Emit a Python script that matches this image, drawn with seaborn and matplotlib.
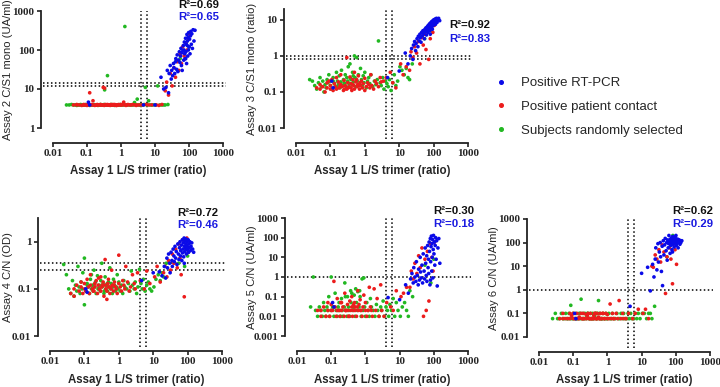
import matplotlib
matplotlib.use("Agg")
import matplotlib.pyplot as plt
import pandas as pd
import seaborn as sns
from matplotlib.lines import Line2D
from matplotlib.ticker import FixedFormatter, FixedLocator, NullLocator

# ---------------------------------------------------------------- data
# Assay 1 (L/S trimer ratio) per subject, one list per group
BLUE_X = [0.11, 0.12, 4.6, 10, 15, 18, 21, 23, 25, 26, 28, 30, 31, 33, 35,
          36, 38, 40, 41, 43, 45, 47, 49, 52, 54, 56, 58, 60, 62, 63,
          66, 68, 70, 71, 73, 75, 77, 79, 81, 83, 85, 87, 89, 90, 92,
          94, 96, 98, 101, 104, 107, 110, 113, 117, 121, 126, 132, 140, 150, 80]
BLUE_A2 = [4.6, 3.9, 3.9, 3.9, 20, 10, 11, 30, 8, 25, 40, 18, 30, 22, 45,
           35, 25, 50, 60, 32, 75, 28, 55, 90, 48, 70, 110, 40, 85, 30,
           95, 130, 55, 100, 160, 80, 60, 200, 90, 140, 45, 250, 130, 170, 70,
           210, 100, 280, 120, 190, 80, 230, 300, 140, 260, 110, 330, 170, 320, 60]
BLUE_A3 = [0.2, 0.13, 0.25, 0.38, 1.2, 0.6, 1.0, 1.6, 0.8, 2.0, 2.5, 1.4, 2.2, 3.0, 1.8,
           3.5, 2.6, 4.0, 3.2, 2.4, 4.5, 3.6, 5.0, 4.2, 3.0, 5.5, 4.8, 6.0, 3.8, 5.2,
           6.5, 4.5, 7.0, 5.8, 6.2, 7.5, 5.0, 8.0, 6.8, 7.2, 8.5, 6.0, 9.0, 7.8, 5.5,
           8.8, 9.5, 7.0, 10, 8.2, 9.2, 10.5, 7.5, 9.8, 11, 8.5, 10, 11, 9.5, 4.0]
BLUE_A4 = [0.1, 0.085, 0.15, 0.22, 0.23, 0.19, 0.3, 0.17, 0.45, 0.28, 0.55, 0.35, 0.22, 0.6, 0.4,
           0.3, 0.7, 0.5, 0.38, 0.8, 0.45, 0.62, 0.33, 0.9, 0.55, 0.42, 0.75, 1.0, 0.5, 0.65,
           0.85, 0.4, 1.1, 0.58, 0.7, 0.95, 0.48, 1.2, 0.8, 0.62, 1.05, 0.72, 0.9, 1.15, 0.55,
           0.85, 1.0, 0.68, 0.78, 1.1, 0.6, 0.9, 0.75, 1.0, 0.65, 0.8, 0.95, 0.7, 0.6, 0.35]
BLUE_A5 = [0.05, 0.03, 0.09, 0.07, 0.4, 0.15, 0.8, 1.5, 0.5, 3, 1.0, 0.6, 6, 1.2, 0.4,
           2.5, 0.7, 10, 1.8, 0.9, 4, 0.5, 15, 2, 0.8, 30, 5, 1.2, 12, 0.6,
           40, 3, 8, 1.5, 60, 20, 0.4, 90, 6, 35, 120, 2, 50, 10, 80,
           0.9, 25, 130, 15, 60, 4, 40, 100, 8, 70, 0.35, 30, 90, 5, 0.7]
BLUE_A6 = [0.1, 0.06, 0.2, 5, 9, 0.9, 12, 3.5, 20, 60, 7, 90, 15, 40, 100,
           25, 6, 70, 1.5, 120, 30, 80, 150, 45, 100, 18, 130, 60, 90, 200,
           110, 35, 140, 75, 95, 160, 50, 120, 180, 85, 100, 140, 65, 170, 110,
           130, 90, 150, 200, 75, 120, 95, 140, 60, 110, 130, 85, 100, 120, 40]

RED_X = [0.04, 0.05, 0.05, 0.06, 0.07, 0.08, 0.08, 0.09, 0.1, 0.1,
         0.11, 0.12, 0.13, 0.14, 0.15, 0.15, 0.17, 0.18, 0.2, 0.2,
         0.22, 0.24, 0.25, 0.27, 0.3, 0.3, 0.32, 0.35, 0.37, 0.4,
         0.4, 0.42, 0.45, 0.48, 0.5, 0.5, 0.55, 0.6, 0.62, 0.65,
         0.7, 0.75, 0.8, 0.85, 0.9, 1.0, 1.0, 1.1, 1.2, 1.3,
         1.4, 1.5, 1.6, 1.8, 2.0, 2.2, 2.5, 2.8, 3.0, 0.33,
         0.45, 0.58, 0.26, 0.19, 0.72,
         3.5, 4.2, 5.5, 6.5, 8, 11, 13, 16,
         20, 22, 25, 28, 32, 36, 40, 45, 50, 55, 60, 65, 72, 80, 88, 95, 105]
RED_A2 = [3.9, 3.9, 4.0, 3.9, 3.8, 3.9, 4.0, 3.9, 3.9, 3.8,
          3.9, 8.0, 3.9, 4.0, 5.0, 3.9, 3.8, 3.9, 4.0, 3.9,
          3.9, 3.9, 4.0, 3.9, 11, 3.9, 3.8, 4.0, 3.9, 3.9,
          4.0, 3.9, 3.9, 3.8, 3.9, 4.0, 3.9, 3.9, 3.9, 4.0,
          3.9, 3.8, 3.9, 4.0, 3.9, 3.9, 4.0, 3.9, 4.6, 3.9,
          3.8, 3.9, 4.0, 3.9, 3.9, 4.0, 3.9, 3.8, 3.9, 10.5,
          3.9, 4.0, 3.9, 3.9, 3.8,
          3.9, 3.9, 4.0, 3.9, 3.9, 3.9, 3.8, 4.0,
          9, 15, 7, 25, 12, 35, 20, 50, 30, 80, 45, 120, 70, 150, 100, 200, 250]
RED_A3 = [0.13, 0.12, 0.16, 0.14, 0.1, 0.18, 0.13, 0.2, 0.12, 0.15,
          0.22, 0.11, 0.17, 0.14, 0.25, 0.12, 0.19, 0.13, 0.16, 0.3,
          0.14, 0.11, 0.21, 0.15, 0.12, 0.9, 0.18, 0.14, 0.26, 0.13,
          0.17, 0.11, 0.22, 0.15, 0.35, 0.12, 0.19, 0.14, 0.16, 0.28,
          0.12, 0.15, 0.2, 0.13, 0.17, 0.11, 0.24, 0.14, 0.18, 0.16,
          0.13, 0.3, 0.15, 0.12, 0.2, 0.17, 0.14, 0.25, 0.19, 0.13,
          0.16, 0.22, 0.12, 0.15, 0.18,
          0.2, 0.25, 0.35, 0.18, 0.13, 0.6, 0.3, 0.5,
          0.4, 1.3, 0.9, 1.8, 1.2, 2.5, 0.6, 3.2, 2, 4, 1.5, 5, 0.8, 3, 6.5, 4.5, 7]
RED_A4 = [0.08, 0.07, 0.1, 0.12, 0.09, 0.11, 0.14, 0.08, 0.1, 0.13,
          0.09, 0.16, 0.11, 0.08, 0.12, 0.2, 0.1, 0.09, 0.13, 0.11,
          0.15, 0.08, 0.12, 0.1, 0.18, 0.09, 0.11, 0.14, 0.07, 0.42,
          0.12, 0.1, 0.09, 0.13, 0.11, 0.16, 0.08, 0.1, 0.25, 0.12,
          0.09, 0.14, 0.11, 0.1, 0.08, 0.52, 0.13, 0.11, 0.09, 0.15,
          0.12, 0.1, 0.3, 0.14, 0.09, 0.11, 0.2, 0.13, 0.1, 0.12,
          0.06, 0.11, 0.17, 0.09, 0.12,
          0.22, 0.15, 0.1, 0.24, 0.13, 0.18, 0.3, 0.14,
          0.22, 0.3, 0.18, 0.4, 0.25, 0.55, 0.35, 0.7, 0.28, 0.9, 0.45, 0.2, 1.1, 0.068, 0.8, 1.2, 0.6]
RED_A5 = [0.02, 0.01, 0.02, 0.03, 0.01, 0.02, 0.05, 0.01, 0.02, 0.04,
          0.02, 0.6, 0.03, 0.01, 0.02, 0.08, 0.02, 0.01, 0.05, 0.02,
          0.03, 0.01, 0.15, 0.02, 0.04, 0.02, 0.01, 0.06, 0.02, 0.03,
          0.1, 0.01, 0.02, 0.05, 0.02, 0.03, 0.01, 0.2, 0.02, 0.04,
          0.07, 0.02, 0.01, 0.03, 0.12, 0.02, 0.05, 0.01, 0.02, 0.3,
          0.03, 0.02, 0.01, 0.25, 0.02, 0.08, 0.01, 0.4, 0.02, 0.01,
          0.04, 0.03, 0.02, 0.05, 0.02,
          0.01, 0.05, 0.03, 0.02, 0.2, 0.1, 0.15, 0.3,
          0.3, 2, 0.8, 5, 1.5, 12, 3, 30, 0.01, 8, 0.02, 20, 0.06, 50, 10, 2, 60]
RED_A6 = [0.06, 0.06, 0.1, 0.06, 0.06, 0.1, 0.06, 0.08, 0.06, 0.1,
          0.06, 0.06, 0.1, 0.06, 0.07, 0.06, 0.1, 0.06, 0.06, 0.1,
          0.06, 0.09, 0.06, 0.1, 0.06, 0.06, 0.1, 0.06, 0.06, 0.08,
          0.06, 0.1, 0.06, 0.06, 0.1, 0.06, 0.07, 0.06, 0.1, 0.06,
          0.06, 0.1, 0.06, 0.06, 0.1, 0.06, 0.09, 0.06, 0.25, 0.06,
          0.1, 0.06, 0.06, 0.1, 0.06, 0.35, 0.06, 0.1, 0.06, 0.06,
          0.1, 0.06, 0.08, 0.06, 0.1,
          0.06, 0.1, 0.06, 0.1, 0.15, 0.1, 0.15, 0.06,
          10, 9, 30, 20, 50, 15, 80, 40, 0.7, 25, 100, 60, 20, 1.8, 90, 50, 12]

GREEN_X = [0.025, 0.03, 0.035, 0.04, 0.045, 0.05, 0.055, 0.06, 0.065, 0.07,
           0.075, 0.08, 0.085, 0.09, 0.1, 0.1, 0.11, 0.12, 0.13, 0.14,
           0.15, 0.16, 0.17, 0.18, 0.19, 0.2, 0.21, 0.22, 0.24, 0.25,
           0.27, 0.29, 0.3, 0.32, 0.33, 0.35, 0.37, 0.4, 0.42, 0.44,
           0.47, 0.5, 0.52, 0.55, 0.58, 0.6, 0.65, 0.7, 0.75, 0.8,
           0.85, 0.9, 0.95, 1.0, 1.1, 1.2, 1.3, 1.4, 1.5, 1.7,
           1.9, 2.1, 2.3, 2.5, 2.8, 3.0, 3.3, 3.6, 4.0, 4.4,
           4.8, 5.2, 5.8, 6.5, 7.2, 8.0, 9.0, 10.5, 12, 14,
           16, 18, 20, 24, 0.12, 0.26, 0.38, 0.46, 0.68, 0.16,
           55, 82, 100]
GREEN_A2 = [3.9, 3.9, 4.0, 3.9, 3.9, 3.8, 3.9, 3.9, 4.0, 3.9,
            3.9, 3.9, 3.9, 4.0, 3.9, 3.9, 3.9, 3.8, 3.9, 3.9,
            3.9, 4.0, 3.9, 3.9, 3.9, 3.9, 3.8, 3.9, 3.9, 4.0,
            3.9, 3.9, 3.9, 4.0, 9.5, 3.9, 3.9, 22, 3.9, 3.9,
            3.9, 3.9, 4.0, 3.9, 3.9, 3.9, 3.8, 3.9, 3.9, 3.9,
            3.9, 3.9, 4.0, 3.9, 3.9, 3.9, 400, 3.9, 3.9, 3.9,
            3.9, 3.9, 3.9, 4.5, 3.9, 5.5, 3.9, 3.9, 3.9, 3.9,
            4.0, 11, 3.9, 5.0, 3.9, 3.9, 3.9, 3.9, 12, 3.9,
            3.9, 3.9, 3.9, 4.0, 3.9, 3.9, 3.9, 3.9, 3.9, 3.9,
            60, 150, 120]
GREEN_A3 = [0.22, 0.2, 0.15, 0.12, 0.18, 0.25, 0.14, 0.2, 0.1, 0.16,
            0.13, 0.22, 0.18, 0.3, 0.15, 0.2, 0.12, 0.25, 0.17, 0.14,
            0.35, 0.2, 0.16, 0.28, 0.13, 0.19, 0.4, 0.15, 0.22, 0.18,
            0.3, 0.14, 0.25, 0.2, 0.5, 0.17, 0.6, 0.22, 0.16, 0.35,
            0.19, 1.0, 0.25, 0.14, 0.9, 0.2, 0.3, 0.16, 0.45, 0.22,
            0.15, 0.28, 0.18, 0.35, 0.13, 0.2, 0.25, 0.17, 0.3, 0.14,
            0.2, 0.16, 0.22, 2.6, 0.18, 0.15, 0.25, 0.12, 0.2, 0.17,
            0.14, 0.22, 0.11, 0.18, 0.3, 0.15, 0.2, 0.5, 0.4, 0.3,
            0.45, 0.25, 0.22, 0.6, 0.2, 0.17, 0.24, 0.28, 0.15, 0.13,
            3.0, 5.0, 8.0]
GREEN_A4 = [0.33, 0.2, 0.1, 0.08, 0.15, 0.07, 0.12, 0.09, 0.3, 0.11,
            0.08, 0.14, 0.1, 0.22, 0.046, 0.45, 0.09, 0.13, 0.11, 0.08,
            0.16, 0.1, 0.12, 0.09, 0.25, 0.11, 0.14, 0.08, 0.19, 0.1,
            0.12, 0.09, 0.15, 0.35, 0.11, 0.13, 0.08, 0.18, 0.1, 0.12,
            0.09, 0.14, 0.11, 0.28, 0.1, 0.13, 0.08, 0.16, 0.12, 0.09,
            0.11, 0.2, 0.1, 0.14, 0.09, 0.12, 0.08, 0.15, 0.11, 0.1,
            0.13, 0.09, 0.24, 0.12, 0.1, 0.14, 0.08, 0.11, 0.26, 0.13,
            0.1, 0.16, 0.09, 0.12, 0.14, 0.1, 0.09, 0.11, 0.16, 0.2,
            0.15, 0.22, 0.18, 0.35, 0.12, 0.1, 0.09, 0.13, 0.11, 0.2,
            0.35, 0.3, 0.5]
GREEN_A5 = [0.03, 1.0, 0.02, 0.01, 0.03, 0.02, 0.01, 0.05, 0.02, 0.01,
            0.03, 0.02, 0.1, 0.01, 1.0, 0.02, 0.03, 0.01, 0.15, 0.02,
            0.01, 0.03, 0.05, 0.02, 0.01, 0.08, 0.02, 0.01, 0.03, 0.5,
            0.02, 0.01, 0.1, 0.03, 0.02, 0.01, 0.2, 0.15, 0.02, 0.03,
            0.12, 0.01, 0.25, 0.05, 0.02, 0.18, 0.03, 0.1, 0.01, 0.8,
            0.02, 0.9, 0.03, 0.01, 0.05, 0.02, 0.01, 0.08, 0.03, 0.02,
            0.01, 0.04, 0.02, 0.01, 0.03, 0.02, 0.06, 0.01, 0.03, 0.02,
            0.01, 0.04, 0.02, 0.08, 0.01, 0.05, 0.02, 0.01, 0.03, 0.05,
            0.02, 0.01, 0.2, 0.1, 0.03, 0.1, 0.05, 0.03, 0.2, 0.02,
            4.0, 0.5, 8.0]
GREEN_A6 = [0.06, 0.1, 0.06, 0.06, 0.1, 0.06, 0.06, 0.1, 0.06, 0.06,
            0.1, 0.06, 0.22, 0.06, 0.1, 0.06, 0.06, 0.1, 0.06, 0.06,
            0.1, 0.06, 0.4, 0.06, 0.1, 0.06, 0.06, 0.1, 0.06, 0.07,
            0.1, 0.06, 0.06, 0.1, 0.06, 0.06, 0.1, 0.06, 0.08, 0.1,
            0.06, 0.06, 0.1, 0.35, 0.06, 0.1, 0.06, 0.06, 0.1, 0.06,
            0.06, 0.1, 0.06, 0.06, 0.1, 0.06, 0.06, 0.1, 0.06, 0.06,
            0.1, 0.06, 0.06, 0.1, 0.06, 0.1, 0.06, 0.06, 0.1, 0.06,
            0.1, 0.06, 0.06, 0.1, 0.06, 0.1, 0.06, 0.1, 0.1, 0.06,
            0.1, 0.1, 0.06, 0.2, 0.06, 0.1, 0.06, 0.1, 0.06, 0.1,
            25, 200, 90]

GROUPS = ["Positive RT-PCR", "Positive patient contact", "Subjects randomly selected"]
COLORS = {GROUPS[0]: "#0a0ae8", GROUPS[1]: "#ec1c1c", GROUPS[2]: "#22b822"}
R2_ALL = ["0.69", "0.92", "0.72", "0.30", "0.62"]
R2_PCR = ["0.65", "0.83", "0.46", "0.18", "0.29"]

W, H = 720, 387


def group_frame(name, x, a2, a3, a4, a5, a6):
    return pd.DataFrame({"group": name, "assay1": x, "assay2": a2, "assay3": a3,
                         "assay4": a4, "assay5": a5, "assay6": a6})


# green first, blue last so the RT-PCR points sit on top
df = pd.concat([
    group_frame(GROUPS[2], GREEN_X, GREEN_A2, GREEN_A3, GREEN_A4, GREEN_A5, GREEN_A6),
    group_frame(GROUPS[1], RED_X, RED_A2, RED_A3, RED_A4, RED_A5, RED_A6),
    group_frame(GROUPS[0], BLUE_X, BLUE_A2, BLUE_A3, BLUE_A4, BLUE_A5, BLUE_A6),
], ignore_index=True)

# column, y label, ylim, y ticks, horizontal cut-offs, pixel box (x0, x1, ytop, ybot),
# R2 text position (x, y black, y blue), y label centre x, x label centre y
PANELS = [
    ("assay2", "Assay 2 C/S1 mono (UA/ml)", (1, 1000), [1, 10, 100, 1000], [12, 14],
     (53, 223, 11, 128), (178, 5, 17), 8, 171),
    ("assay3", "Assay 3 C/S1 mono (ratio)", (0.01, 20), [0.01, 0.1, 1, 10], [0.8, 1.0],
     (296, 468, 9, 128), (449, 25, 39), 252, 171),
    ("assay4", "Assay 4 C/N (OD)", (0.01, 3.2), [0.01, 0.1, 1], [0.25, 0.35],
     (50, 222, 218, 336), (177, 213, 225), 8, 380),
    ("assay5", "Assay 5 C/N (UA/ml)", (0.001, 1000), [0.001, 0.01, 0.1, 1, 10, 100, 1000], [1],
     (297, 468, 218, 336), (433, 211, 224), 252, 380),
    ("assay6", "Assay 6 C/N (UA/ml)", (0.01, 1000), [0.01, 0.1, 1, 10, 100, 1000], [1],
     (539, 710, 219, 337), (672, 211, 224), 494, 380),
]
X_TICKS = [0.01, 0.1, 1, 10, 100, 1000]

sns.set_theme(style="ticks")
plt.rcParams["font.family"] = ["Liberation Sans", "DejaVu Sans"]

fig = plt.figure(figsize=(W / 100, H / 100), dpi=100)

dot = (0, (1, 1.6))
for i, (col, ylabel, ylim, yticks, cuts, box, r2pos, ylab_x, xlab_y) in enumerate(PANELS):
    x0, x1, ytop, ybot = box
    ax = fig.add_axes([x0 / W, 1 - ybot / H, (x1 - x0) / W, (ybot - ytop) / H])
    sns.scatterplot(data=df, x="assay1", y=col, hue="group", palette=COLORS,
                    s=7, linewidth=0, legend=False, ax=ax, zorder=3)
    ax.set_xscale("log")
    ax.set_yscale("log")
    ax.set_xlim(0.01, 1000)
    ax.set_ylim(*ylim)

    # cut-off lines
    ext_y = 11 / (ybot - ytop)
    for xv in (4, 6):
        ax.axvline(xv, ymin=-ext_y, ymax=1, color="black", lw=1.1, ls=dot,
                   clip_on=False, zorder=2)
    ext_x = 10 / (x1 - x0)
    for yv in cuts:
        ax.axhline(yv, xmin=-ext_x, xmax=1.02, color="black", lw=1.1, ls=dot,
                   clip_on=False, zorder=2)

    for side in ("top", "right"):
        ax.spines[side].set_visible(False)
    ax.spines["left"].set_position(("outward", 9))
    ax.spines["bottom"].set_position(("outward", 10.5))
    for side in ("left", "bottom"):
        ax.spines[side].set_linewidth(1.3)
        ax.spines[side].set_color("#222222")

    ax.xaxis.set_major_locator(FixedLocator(X_TICKS))
    ax.xaxis.set_major_formatter(FixedFormatter([f"{v:g}" for v in X_TICKS]))
    ax.yaxis.set_major_locator(FixedLocator(yticks))
    ax.yaxis.set_major_formatter(FixedFormatter([f"{v:g}" for v in yticks]))
    ax.xaxis.set_minor_locator(NullLocator())
    ax.yaxis.set_minor_locator(NullLocator())
    ax.tick_params(axis="both", which="major", length=3, width=1.2, color="#222222",
                   labelsize=8, pad=1.5)
    for lab in ax.get_xticklabels() + ax.get_yticklabels():
        lab.set_fontfamily("Liberation Serif")
        lab.set_fontweight("bold")

    ax.set_xlabel("Assay 1 L/S trimer (ratio)", fontsize=8.3, fontweight="bold", va="center")
    ax.xaxis.set_label_coords(0.5, -(xlab_y - ybot) / (ybot - ytop))
    ax.set_ylabel(ylabel, fontsize=8.1, va="center")
    ax.yaxis.set_label_coords((ylab_x - x0) / (x1 - x0), 0.5)

    rx, ry1, ry2 = r2pos
    fig.text(rx / W, 1 - ry1 / H, f"R\u00b2={R2_ALL[i]}", color="#111111",
             fontsize=8.2, fontweight="bold", va="center", ha="left")
    fig.text(rx / W, 1 - ry2 / H, f"R\u00b2={R2_PCR[i]}", color="#1a1ae0",
             fontsize=8.2, fontweight="bold", va="center", ha="left")

handles = [Line2D([], [], marker="o", ls="", color=COLORS[g], markersize=2.6) for g in GROUPS]
fig.legend(handles, GROUPS, loc="upper left", bbox_to_anchor=(493 / W, 1 - 77 / H),
           frameon=False, fontsize=9.5, handlelength=1.2, handletextpad=0.9,
           labelspacing=0.88, borderaxespad=0, borderpad=0)

fig.savefig("out.png", dpi=100)
